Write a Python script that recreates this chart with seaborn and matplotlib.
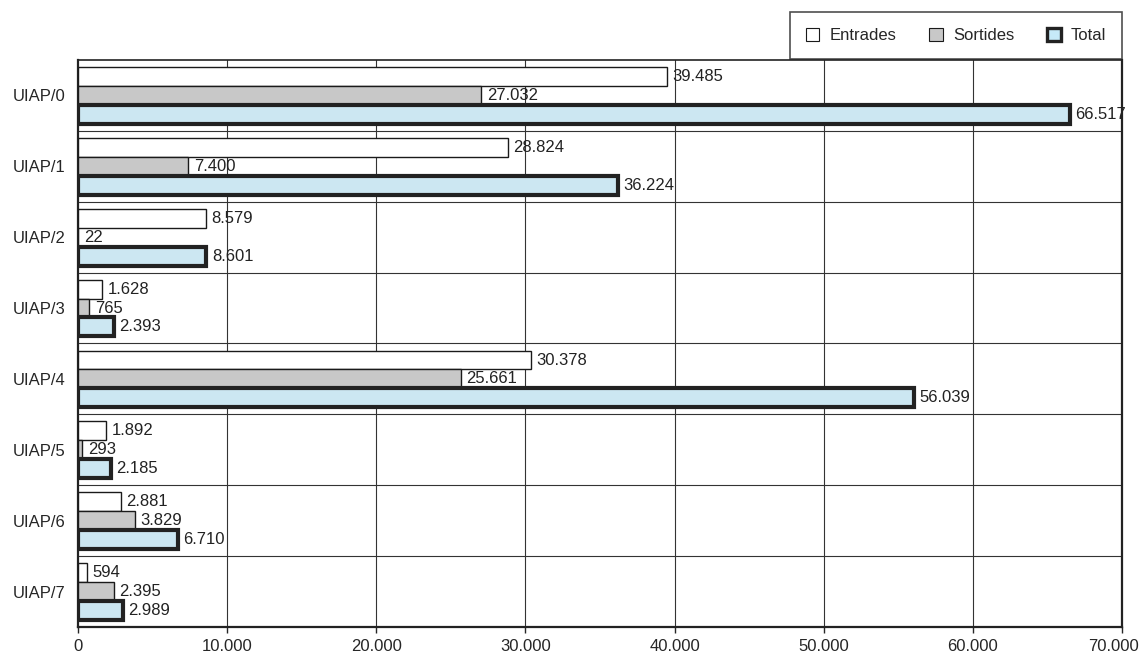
import numpy as np
import pandas as pd
import matplotlib.pyplot as plt
import seaborn as sns
from matplotlib.patches import Patch
from matplotlib.transforms import ScaledTranslation

# data
units = ["UIAP/0", "UIAP/1", "UIAP/2", "UIAP/3", "UIAP/4", "UIAP/5", "UIAP/6", "UIAP/7"]
entrades = [39485, 28824, 8579, 1628, 30378, 1892, 2881, 594]
sortides = [27032, 7400, 22, 765, 25661, 293, 3829, 2395]
total = [66517, 36224, 8601, 2393, 56039, 2185, 6710, 2989]
series = ["Entrades", "Sortides", "Total"]
xticks = [0, 10000, 20000, 30000, 40000, 50000, 60000, 70000]

df = pd.DataFrame({
    "unit": units * 3,
    "valor": entrades + sortides + total,
    "serie": [s for s in series for _ in units],
})

sns.set_style("white")
plt.rcParams["font.family"] = ["Liberation Sans", "DejaVu Sans"]

fills = {"Entrades": "#ffffff", "Sortides": "#c8c8c8", "Total": "#c6e9f8"}
edges = {"Entrades": "#1a1a1a", "Sortides": "#1a1a1a", "Total": "#222222"}
lws = {"Entrades": 1.0, "Sortides": 1.0, "Total": 3.0}
fs = 12

fig = plt.figure(figsize=(11.4, 6.57), dpi=100)
ax = fig.add_axes([0.0684, 0.0457, 0.9158, 0.863])

sns.barplot(data=df, x="valor", y="unit", hue="serie", orient="h",
            palette=fills, width=0.8, legend=False, ax=ax, zorder=3)

def fmt(v):
    return f"{int(round(v)):,}".replace(",", ".")

for cont, s in zip(ax.containers, series):
    for bar in cont:
        bar.set_edgecolor(edges[s])
        bar.set_linewidth(lws[s])
    ax.bar_label(cont, labels=[fmt(v) for v in cont.datavalues],
                 padding=4, fontsize=fs, color="#222222")

ax.set_xlim(0, 70000)
ax.set_ylim(len(units) - 0.5, -0.5)
ax.set_xticks(xticks)
ax.set_xticklabels([fmt(v) for v in xticks], fontsize=fs)
ax.set_xlabel("")
ax.set_ylabel("")

# vertical grid at ticks, horizontal lines at group borders
for v in xticks[1:]:
    ax.axvline(v, color="#333333", lw=0.8, zorder=1)
for b in np.arange(0.5, len(units) - 0.5, 1):
    ax.axhline(b, color="#333333", lw=0.8, zorder=1)

ax.set_yticks(range(len(units)))
ax.set_yticklabels(units, fontsize=fs)
ax.tick_params(axis="y", length=0, pad=9)
ax.tick_params(axis="x", length=4, width=1, direction="out", pad=5, bottom=True)
for side in ["left", "bottom", "top", "right"]:
    ax.spines[side].set_visible(True)
    ax.spines[side].set_color("#222222")
ax.spines["left"].set_linewidth(1.6)
ax.spines["bottom"].set_linewidth(1.6)
ax.spines["top"].set_linewidth(1.2)
ax.spines["right"].set_linewidth(1.6)

# last tick label sits a little to the left so it stays inside
fig.canvas.draw()
last = ax.xaxis.get_major_ticks()[-1].label1
last.set_transform(last.get_transform() + ScaledTranslation(-8 / 100, 0, fig.dpi_scale_trans))

handles = [Patch(facecolor=fills[s], edgecolor=edges[s], linewidth=lws[s] * 0.8)
           for s in series]
leg = fig.legend(handles, series, loc="upper left", ncol=3, mode="expand",
                 bbox_to_anchor=(790 / 1140, 1 - 57 / 657, 332 / 1140, 45 / 657),
                 fontsize=fs, handlelength=0.8, handleheight=0.8,
                 handletextpad=0.6, borderpad=0.95, borderaxespad=0,
                 fancybox=False, frameon=True)
leg.get_frame().set_edgecolor("#222222")
leg.get_frame().set_linewidth(1.2)

fig.savefig("out.png", dpi=100)
